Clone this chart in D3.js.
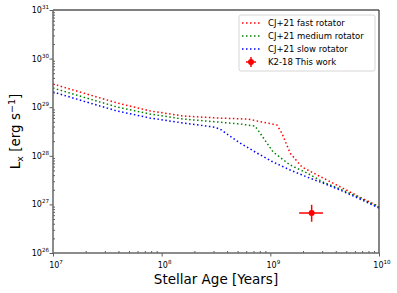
<!DOCTYPE html>
<meta charset="utf-8">
<head>
<style>
  body { margin: 0; background: #fff; }
  text { font-family: "DejaVu Sans", sans-serif; }
</style>
</head>
<body>
<div id="my_dataviz"></div>
<script src="https://d3js.org/d3.v7.min.js"></script>
<script>
// model tracks (age in years, Lx in erg/s)
const fastAge = [1.0e7, 1.9e7, 3.9e7, 7.8e7, 1.57e8, 3.2e8, 6.2e8, 1.15e9, 1.28e9, 1.52e9, 1.95e9, 3.05e9, 4.4e9, 6.7e9, 1.0e10];
const fastLx  = [3.0e29, 1.96e29, 1.22e29, 8.4e28, 6.6e28, 6.0e28, 5.7e28, 4.3e28, 2.9e28, 1.14e28, 5.9e27, 3.5e27, 2.3e27, 1.4e27, 9.0e26];

const medAge = [1.0e7, 1.89e7, 3.88e7, 7.8e7, 1.57e8, 3.23e8, 5.26e8, 7.23e8, 8.04e8, 1.06e9, 1.52e9, 2.17e9, 3.05e9, 4.38e9, 6.68e9, 1.0e10];
const medLx  = [2.48e29, 1.62e29, 1.01e29, 7.24e28, 5.71e28, 4.97e28, 4.51e28, 4.1e28, 2.94e28, 1.2e28, 6.47e27, 4.43e27, 2.89e27, 2.07e27, 1.36e27, 8.7e26];

const slowAge = [1.0e7, 1.89e7, 3.88e7, 7.8e7, 1.57e8, 2.97e8, 3.44e8, 3.99e8, 5.26e8, 7.53e8, 1.06e9, 1.52e9, 2.17e9, 3.05e9, 4.38e9, 6.68e9, 1.0e10];
const slowLx  = [2.06e29, 1.34e29, 8.36e28, 6.0e28, 4.73e28, 3.92e28, 3.56e28, 2.81e28, 1.83e28, 1.14e28, 7.45e27, 5.11e27, 3.66e27, 2.75e27, 1.98e27, 1.29e27, 8.4e26];

// K2-18 measurement
const k2Age = 2.4e9, k2AgeLo = 1.84e9, k2AgeHi = 3.05e9;
const k2Lx = 6.65e26, k2LxLo = 4.4e26, k2LxHi = 9.8e26;

const seriesNames = ["CJ+21 fast rotator", "CJ+21 medium rotator", "CJ+21 slow rotator"];
const seriesColors = ["red", "green", "blue"];
const pointLabel = "K2-18 This work";

const xMajor = [1e7, 1e8, 1e9, 1e10];
const yMajor = [1e26, 1e27, 1e28, 1e29, 1e30, 1e31];

const margin = {top: 10, right: 18, bottom: 40, left: 53},
    width = 397 - margin.left - margin.right,
    height = 293 - margin.top - margin.bottom;

const root = d3.select("#my_dataviz")
  .append("svg")
    .attr("width", 397)
    .attr("height", 293);
const svg = root.append("g")
    .attr("transform", `translate(${margin.left}, ${margin.top})`);

const x = d3.scaleLog().domain([1e7, 1e10]).range([0, width]);
const y = d3.scaleLog().domain([1e26, 1e31]).range([height, 0]);

// minor tick values
const xMinor = [], yMinor = [];
xMajor.slice(0, -1).forEach(d => { for (let k = 2; k < 10; k++) xMinor.push(d * k); });
yMajor.slice(0, -1).forEach(d => { for (let k = 2; k < 10; k++) yMinor.push(d * k); });

// minor ticks point inward
svg.append("g").attr("transform", `translate(0, ${height})`)
  .call(d3.axisTop(x).tickValues(xMinor).tickSize(2).tickFormat(""))
  .call(g => g.select(".domain").remove())
  .selectAll("line").attr("stroke", "#333").attr("stroke-width", 0.8);
svg.append("g")
  .call(d3.axisRight(y).tickValues(yMinor).tickSize(2).tickFormat(""))
  .call(g => g.select(".domain").remove())
  .selectAll("line").attr("stroke", "#333").attr("stroke-width", 0.8);

// major ticks
const xAxis = svg.append("g").attr("transform", `translate(0, ${height})`)
  .call(d3.axisBottom(x).tickValues(xMajor).tickSize(3.5).tickFormat(""));
xAxis.select(".domain").remove();
xAxis.selectAll("line").attr("stroke", "#333").attr("stroke-width", 0.8);

const yAxis = svg.append("g")
  .call(d3.axisLeft(y).tickValues(yMajor).tickSize(3.5).tickFormat(""));
yAxis.select(".domain").remove();
yAxis.selectAll("line").attr("stroke", "#333").attr("stroke-width", 0.8);

// tick labels with superscripts
function powLabel(sel, v) {
  sel.append("tspan").text("10");
  sel.append("tspan").attr("dy", -4).attr("font-size", 5.6).text(Math.round(Math.log10(v)));
}
xMajor.forEach(v => {
  svg.append("text")
    .attr("x", x(v) + 3)
    .attr("y", height + 15)
    .attr("text-anchor", "middle")
    .attr("font-size", 8)
    .call(powLabel, v);
});
yMajor.forEach(v => {
  svg.append("text")
    .attr("x", -4)
    .attr("y", y(v) + 3)
    .attr("text-anchor", "end")
    .attr("font-size", 8)
    .call(powLabel, v);
});

// model lines
const line = d3.line().x(d => x(d[0])).y(d => y(d[1]));
const tracks = [d3.zip(fastAge, fastLx), d3.zip(medAge, medLx), d3.zip(slowAge, slowLx)];
tracks.forEach((t, i) => {
  svg.append("path")
    .datum(t)
    .attr("fill", "none")
    .attr("stroke", seriesColors[i])
    .attr("stroke-width", 1.5)
    .attr("stroke-dasharray", "1.5,2.5")
    .attr("d", line);
});

// K2-18 point with errorbars
svg.append("line")
  .attr("x1", x(k2AgeLo)).attr("x2", x(k2AgeHi))
  .attr("y1", y(k2Lx)).attr("y2", y(k2Lx))
  .attr("stroke", "red").attr("stroke-width", 1.5);
svg.append("line")
  .attr("x1", x(k2Age)).attr("x2", x(k2Age))
  .attr("y1", y(k2LxLo)).attr("y2", y(k2LxHi))
  .attr("stroke", "red").attr("stroke-width", 1.5);
svg.append("circle")
  .attr("cx", x(k2Age)).attr("cy", y(k2Lx)).attr("r", 3)
  .attr("fill", "red");

// spines
svg.append("line").attr("x1", 0).attr("x2", width).attr("y1", 0).attr("y2", 0)
  .attr("stroke", "#000").attr("stroke-width", 1);
svg.append("line").attr("x1", width).attr("x2", width).attr("y1", 0).attr("y2", height)
  .attr("stroke", "#444").attr("stroke-width", 1.3);
svg.append("line").attr("x1", 0).attr("x2", 0).attr("y1", 0).attr("y2", height)
  .attr("stroke", "#666").attr("stroke-width", 1.5);
svg.append("line").attr("x1", 0).attr("x2", width).attr("y1", height).attr("y2", height)
  .attr("stroke", "#666").attr("stroke-width", 1.5);

// legend
const leg = svg.append("g").attr("transform", `translate(${239 - margin.left}, ${15 - margin.top})`);
leg.append("rect")
  .attr("width", 136).attr("height", 56).attr("rx", 2)
  .attr("fill", "#fff").attr("fill-opacity", 0.8)
  .attr("stroke", "#ccc").attr("stroke-width", 0.8);
seriesNames.forEach((name, i) => {
  const yy = 8 + i * 13;
  leg.append("line")
    .attr("x1", 3).attr("x2", 21).attr("y1", yy).attr("y2", yy)
    .attr("stroke", seriesColors[i]).attr("stroke-width", 1.5)
    .attr("stroke-dasharray", "1.5,2.5");
  leg.append("text")
    .attr("x", 29).attr("y", yy + 3)
    .attr("font-size", 8.5)
    .text(name);
});
const py = 8 + 3 * 13;
leg.append("line").attr("x1", 7).attr("x2", 17).attr("y1", py).attr("y2", py)
  .attr("stroke", "red").attr("stroke-width", 1.5);
leg.append("line").attr("x1", 12).attr("x2", 12).attr("y1", py - 5).attr("y2", py + 5)
  .attr("stroke", "red").attr("stroke-width", 1.5);
leg.append("circle").attr("cx", 12).attr("cy", py).attr("r", 3).attr("fill", "red");
leg.append("text").attr("x", 29).attr("y", py + 3).attr("font-size", 8.5).text(pointLabel);

// axis titles
root.append("text")
  .attr("x", margin.left + width / 2)
  .attr("y", 284)
  .attr("text-anchor", "middle")
  .attr("font-size", 13.5)
  .text("Stellar Age [Years]");

const yl = root.append("text")
  .attr("transform", `translate(20, ${margin.top + height / 2}) rotate(-90)`)
  .attr("text-anchor", "middle")
  .attr("font-size", 13.5);
yl.append("tspan").text("L");
yl.append("tspan").attr("dy", 3).attr("font-size", 9.5).text("x");
yl.append("tspan").attr("dy", -3).text(" [erg s");
yl.append("tspan").attr("dy", -5).attr("font-size", 9.5).text("\u22121");
yl.append("tspan").attr("dy", 5).text("]");
</script>
</body>
